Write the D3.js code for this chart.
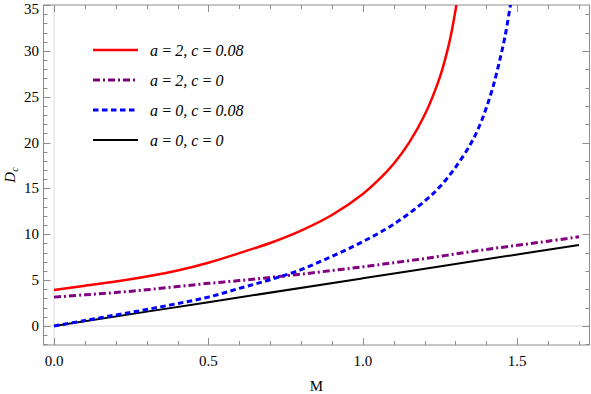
<!DOCTYPE html>
<html>
<head>
<meta charset="utf-8">
<script src="https://cdn.jsdelivr.net/npm/d3@7"></script>
<style>
  body { margin: 0; background: #fff; }
</style>
</head>
<body>
<div id="chart"></div>
<script>
// curves
let redM = [0, 0.1, 0.2, 0.3, 0.4, 0.5, 0.6, 0.7, 0.8, 0.9, 1.0, 1.05, 1.1, 1.15, 1.2, 1.25, 1.28, 1.3, 1.31];
let redD = [3.92, 4.4, 4.85, 5.4, 6.05, 6.9, 7.95, 9.05, 10.4, 12.1, 14.4, 15.9, 17.7, 20.0, 23.0, 27.2, 30.9, 34.4, 36.5];

let purpleM = [0, 0.1, 0.2, 0.3, 0.4, 0.5, 0.6, 0.7, 0.8, 0.9, 1.0, 1.1, 1.2, 1.3, 1.4, 1.5, 1.6, 1.7];
let purpleD = [3.15, 3.4, 3.65, 3.95, 4.3, 4.65, 4.95, 5.3, 5.65, 6.05, 6.45, 6.9, 7.35, 7.85, 8.35, 8.8, 9.25, 9.73];

let blueM = [0, 0.1, 0.2, 0.3, 0.4, 0.5, 0.6, 0.7, 0.8, 0.9, 1.0, 1.1, 1.2, 1.25, 1.3, 1.35, 1.38, 1.4, 1.42, 1.44, 1.46, 1.478, 1.485];
let blueD = [0, 0.6, 1.2, 1.8, 2.45, 3.15, 4.1, 5.05, 6.15, 7.6, 9.2, 11.1, 13.6, 15.2, 17.3, 19.9, 22.0, 23.8, 25.9, 28.5, 31.5, 35, 36.5];

let blackM = [0, 0.5, 1.0, 1.5, 1.7];
let blackD = [0, 2.6, 5.2, 7.8, 8.83];

let legendLabels = ["a=2, c=0.08", "a=2, c=0", "a=0, c=0.08", "a=0, c=0"];

let xTicks = [0, 0.5, 1.0, 1.5];
let yTicks = [0, 5, 10, 15, 20, 25, 30, 35];

let width = 591, height = 394;
let pLeft = 43.5, pRight = 589.5, pTop = 5, pBottom = 345;
let serif = "Liberation Serif";

let svg = d3.select("#chart").append("svg")
  .attr("width", width)
  .attr("height", height);

let x = d3.scaleLinear().domain([-0.034, 1.734]).range([pLeft, pRight]);
let y = d3.scaleLinear().domain([-2.07, 35]).range([pBottom, pTop]);

svg.append("clipPath").attr("id", "clip")
  .append("rect")
  .attr("x", pLeft).attr("y", pTop)
  .attr("width", pRight - pLeft).attr("height", pBottom - pTop);

// light zero axes
svg.append("line")
  .attr("x1", x(0)).attr("x2", x(0)).attr("y1", pTop).attr("y2", pBottom)
  .attr("stroke", "#d8d8d8").attr("stroke-width", 1);
svg.append("line")
  .attr("x1", pLeft).attr("x2", pRight).attr("y1", y(0)).attr("y2", y(0))
  .attr("stroke", "#d8d8d8").attr("stroke-width", 1);

// frame ticks (inward)
let frameColor = "#8c8c8c";
let tickG = svg.append("g").attr("stroke", frameColor).attr("stroke-width", 1);

d3.range(0, 17.5).map(i => i / 10).forEach(v => {
  let major = Math.abs(v * 2 - Math.round(v * 2)) < 1e-6;
  let len = major ? 7 : 4;
  let px = Math.round(x(v)) + 0.5;
  tickG.append("line").attr("x1", px).attr("x2", px).attr("y1", pBottom).attr("y2", pBottom - len);
  tickG.append("line").attr("x1", px).attr("x2", px).attr("y1", pTop).attr("y2", pTop + len);
});
d3.range(-2, 36).forEach(v => {
  let major = v % 5 === 0;
  let py = Math.round(y(v)) + 0.5;
  tickG.append("line").attr("x1", pLeft).attr("x2", pLeft + (major ? 7 : 4)).attr("y1", py).attr("y2", py);
  if (v % 2 === 0) {
    let len = v % 10 === 0 ? 7 : 4;
    tickG.append("line").attr("x1", pRight).attr("x2", pRight - len).attr("y1", py).attr("y2", py);
  }
});

svg.append("rect")
  .attr("x", pLeft).attr("y", pTop)
  .attr("width", pRight - pLeft).attr("height", pBottom - pTop)
  .attr("fill", "none").attr("stroke", frameColor).attr("stroke-width", 1);

// tick labels
svg.append("g").selectAll("text")
  .data(xTicks)
  .join("text")
  .attr("x", d => x(d))
  .attr("y", 366)
  .attr("text-anchor", "middle")
  .attr("font-family", serif)
  .attr("font-size", 15)
  .text(d => d.toFixed(1));

svg.append("g").selectAll("text")
  .data(yTicks)
  .join("text")
  .attr("x", 39)
  .attr("y", d => Math.max(y(d) + 5, 13.5))
  .attr("text-anchor", "end")
  .attr("font-family", serif)
  .attr("font-size", 15)
  .text(d => d);

// axis labels
svg.append("text")
  .attr("x", (pLeft + pRight) / 2)
  .attr("y", 391)
  .attr("text-anchor", "middle")
  .attr("font-family", serif)
  .attr("font-size", 15)
  .text("M");

let yl = svg.append("text")
  .attr("transform", `translate(15,${(pTop + pBottom) / 2}) rotate(-90)`)
  .attr("text-anchor", "middle")
  .attr("font-family", serif)
  .attr("font-size", 15)
  .attr("font-style", "italic");
yl.append("tspan").text("D");
yl.append("tspan").attr("font-size", 10).attr("dy", 3).text("c");

// series
let series = [
  { m: redM, d: redD, color: "#ff0000", width: 2.5, dash: null },
  { m: purpleM, d: purpleD, color: "#800080", width: 3, dash: "7,3,2,3" },
  { m: blueM, d: blueD, color: "#0000ff", width: 3, dash: "5.5,3.5" },
  { m: blackM, d: blackD, color: "#000000", width: 2, dash: null }
];

let line = d3.line()
  .x(p => x(p[0]))
  .y(p => y(p[1]))
  .curve(d3.curveCatmullRom.alpha(0.5));

let plot = svg.append("g").attr("clip-path", "url(#clip)");

// draw black first so colored curves sit on top
[3, 1, 0, 2].forEach(i => {
  let s = series[i];
  plot.append("path")
    .datum(s.m.map((m, j) => [m, s.d[j]]))
    .attr("d", line)
    .attr("fill", "none")
    .attr("stroke", s.color)
    .attr("stroke-width", s.width)
    .attr("stroke-dasharray", s.dash);
});

// legend
let legendY = [50, 80, 110, 140];
let legend = svg.append("g");
series.forEach((s, i) => {
  legend.append("line")
    .attr("x1", 93).attr("x2", 138)
    .attr("y1", legendY[i]).attr("y2", legendY[i])
    .attr("stroke", s.color)
    .attr("stroke-width", s.width)
    .attr("stroke-dasharray", s.dash);
  legend.append("text")
    .attr("x", 150)
    .attr("y", legendY[i] + 6)
    .attr("font-family", serif)
    .attr("font-size", 16)
    .attr("font-style", "italic")
    .text(legendLabels[i].replace(/=/g, "\u2009=\u2009"));
});
</script>
</body>
</html>
